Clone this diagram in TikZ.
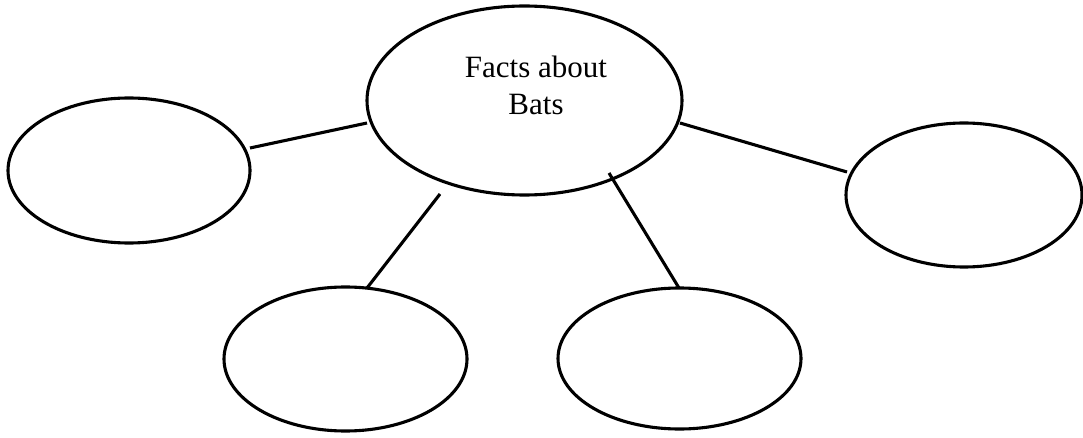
\documentclass[tikz,border=0pt]{standalone}
\usepackage{fontspec}
\setmainfont{Liberation Serif}
\usetikzlibrary{shapes.geometric}
\tikzset{
  bubble/.style={ellipse, draw=black, line width=3.1pt, inner sep=0pt},
  link/.style={draw=black, line width=3.1pt},
  label/.style={inner sep=0pt, anchor=base, font=\fontsize{31}{37}\selectfont}
}
\begin{document}
\begin{tikzpicture}[x=1pt, y=-1pt]
\useasboundingbox (0,0) rectangle (1083,438);
\node[bubble, minimum width=315pt, minimum height=189pt] (c) at (524.5,100.5) {};
\node[bubble, minimum width=242pt, minimum height=145pt] (l) at (129,170.5) {};
\node[bubble, minimum width=236pt, minimum height=144pt] (r) at (964,195) {};
\node[bubble, minimum width=243pt, minimum height=144pt] (bl) at (345.5,359) {};
\node[bubble, minimum width=243pt, minimum height=141pt] (br) at (679.5,358.5) {};
\node[label] (t1) at (536,78) {Facts about};
\node[label] (t2) at (536,115) {Bats};
\draw[link] ([shift={(121,-22.5)}]l.center) -- ([shift={(-157.5,22.5)}]c.center);
\draw[link] ([shift={(155.5,22.5)}]c.center) -- ([shift={(-117,-23)}]r.center);
\draw[link] ([shift={(-84.5,93.5)}]c.center) -- ([shift={(21.5,-71)}]bl.center);
\draw[link] ([shift={(84.5,72.5)}]c.center) -- ([shift={(-0.5,-70.5)}]br.center);
\end{tikzpicture}
\end{document}
